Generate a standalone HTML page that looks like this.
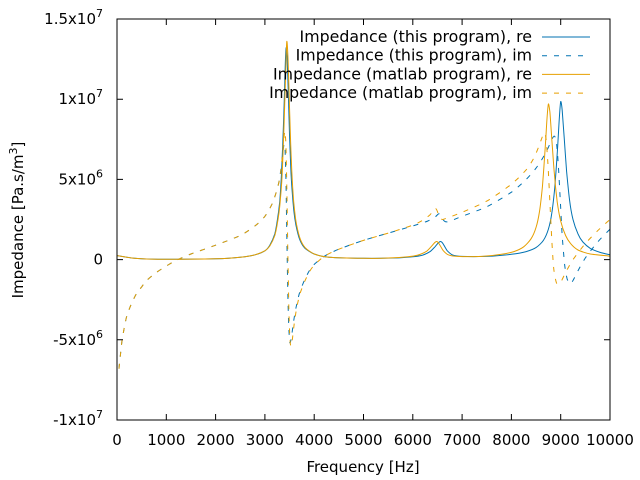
<!DOCTYPE html>
<html><head><meta charset="utf-8"><style>
html,body{margin:0;padding:0;background:#fff}
svg{display:block;font-family:"DejaVu Sans","Liberation Sans",sans-serif;font-size:15px}
</style></head><body>
<svg id="chart" width="640" height="480" viewBox="0 0 640 480" xmlns="http://www.w3.org/2000/svg">
<rect x="0" y="0" width="640" height="480" fill="#fff"/>
<g id="plot"></g>
<g id="axes"></g>
<text x="363" y="472" text-anchor="middle">Frequency [Hz]</text>
<text transform="translate(23,220) rotate(-90)" text-anchor="middle">Impedance [Pa.s/m<tspan dy="-6" font-size="11">3</tspan><tspan dy="6">]</tspan></text>
<g id="legend" font-size="15.8"></g>
</svg>
<script>
const xTicks=[0,1000,2000,3000,4000,5000,6000,7000,8000,9000,10000];
const yTicks=[-1e7,-5e6,0,5e6,1e7,1.5e7];
const yTickLabels=[["-1x10","7"],["-5x10","6"],["0",""],["5x10","6"],["1x10","7"],["1.5x10","7"]];
const seriesNames=["Impedance (this program), re","Impedance (this program), im","Impedance (matlab program), re","Impedance (matlab program), im"];
// values in units of 1e6 Pa.s/m^3
const fReThis=[0,300,600,1000,1500,2000,2500,2800,3000,3100,3200,3250,3300,3330,3360,3390,3410,3430,3450,3470,3500,3530,3570,3620,3700,3800,4000,4300,5000,5600,6000,6200,6350,6450,6500,6540,6570,6600,6640,6700,6800,7000,7500,8000,8300,8500,8650,8750,8820,8880,8930,8970,9000,9030,9070,9120,9180,9250,9350,9450,9600,9800,10000];
const vReThis=[0.25,0.1,0.04,0.02,0.03,0.05,0.15,0.3,0.55,0.9,1.6,2.4,3.6,5.0,7.0,9.6,11.8,13.2,12.6,10.8,7.8,5.4,3.6,2.3,1.3,0.75,0.35,0.15,0.08,0.1,0.18,0.28,0.5,0.8,0.98,1.1,1.12,1.05,0.85,0.55,0.3,0.2,0.2,0.33,0.5,0.75,1.2,1.9,2.9,4.5,6.6,8.7,9.85,9.3,7.6,5.5,3.7,2.5,1.6,1.1,0.7,0.45,0.3];
const fImThis=[40,70,100,150,200,300,400,500,600,800,1000,1200,1500,2000,2500,2800,3000,3150,3250,3300,3340,3370,3390,3410,3430,3450,3470,3490,3510,3540,3580,3630,3700,3800,3900,4000,4200,4500,5000,5500,6000,6300,6450,6520,6560,6600,6640,6700,6800,7000,7500,8000,8300,8500,8650,8750,8820,8870,8910,8950,8990,9030,9080,9130,9190,9250,9350,9500,9750,10000];
const vImThis=[-6.8,-5.9,-5.1,-4.2,-3.5,-2.7,-2.1,-1.7,-1.3,-0.8,-0.4,-0.05,0.35,0.9,1.5,2.1,2.7,3.5,4.4,5.1,6.0,6.8,7.2,6.8,4.5,0.5,-2.8,-4.6,-5.2,-4.8,-3.9,-3.0,-2.1,-1.3,-0.7,-0.3,0.2,0.65,1.2,1.65,2.1,2.4,2.65,2.85,2.8,2.55,2.4,2.35,2.45,2.7,3.3,4.2,5.0,5.7,6.4,7.0,7.5,7.7,7.4,6.0,3.8,1.5,-0.3,-1.2,-1.5,-1.3,-0.7,0.1,1.1,1.9];
const fReMat=[0,300,600,1000,1500,2000,2500,2800,3000,3100,3200,3250,3300,3340,3370,3400,3425,3445,3465,3485,3515,3545,3585,3635,3715,3815,4000,4300,5000,5500,5900,6100,6270,6370,6420,6460,6490,6520,6560,6620,6720,6900,7400,7800,8050,8250,8400,8500,8570,8630,8680,8720,8750,8780,8820,8870,8930,9000,9100,9200,9350,9600,10000];
const vReMat=[0.25,0.1,0.04,0.02,0.03,0.05,0.15,0.3,0.55,0.85,1.5,2.2,3.3,4.8,6.8,9.5,12.0,13.6,12.8,11.0,7.9,5.5,3.6,2.3,1.3,0.75,0.35,0.15,0.08,0.1,0.18,0.28,0.5,0.8,0.98,1.1,1.12,1.05,0.85,0.55,0.3,0.2,0.2,0.33,0.5,0.8,1.3,2.0,3.0,4.6,6.7,8.7,9.7,9.2,7.5,5.4,3.6,2.4,1.5,1.0,0.6,0.35,0.22];
const fImMat=[40,70,100,150,200,300,400,500,600,800,1000,1200,1500,2000,2500,2800,3000,3150,3250,3310,3350,3380,3405,3425,3445,3465,3485,3505,3525,3555,3595,3645,3715,3815,3915,4000,4200,4500,5000,5500,6000,6200,6350,6420,6460,6500,6540,6600,6700,7000,7500,8000,8300,8450,8550,8620,8660,8700,8740,8780,8820,8860,8920,9000,9100,9250,9500,9750,10000];
const vImMat=[-6.8,-5.9,-5.1,-4.2,-3.5,-2.7,-2.1,-1.7,-1.3,-0.8,-0.4,-0.05,0.35,0.9,1.5,2.1,2.7,3.5,4.4,5.2,6.3,7.4,8.0,7.2,4.5,0.5,-2.9,-4.8,-5.4,-5.0,-4.0,-3.0,-2.1,-1.3,-0.7,-0.35,0.2,0.65,1.2,1.65,2.15,2.45,2.8,3.1,3.2,3.0,2.65,2.5,2.6,2.95,3.65,4.7,5.6,6.3,7.0,7.6,7.9,7.6,6.0,3.6,1.2,-0.6,-1.5,-1.4,-0.8,0.0,1.0,1.8,2.5];

const X0=117,X1=610,Y0=19,Y1=420,xMin=0,xMax=10000,yMin=-1e7,yMax=1.5e7;
const sx=f=>X0+(f-xMin)/(xMax-xMin)*(X1-X0);
const sy=v=>Y1-(v-yMin)/(yMax-yMin)*(Y1-Y0);
const NS="http://www.w3.org/2000/svg";
const mk=(t,a,p)=>{const e=document.createElementNS(NS,t);for(const k in a)e.setAttribute(k,a[k]);p.appendChild(e);return e;};
const axes=document.getElementById('axes'),plot=document.getElementById('plot'),leg=document.getElementById('legend');

const clip=mk('clipPath',{id:'clipP'},document.getElementById('chart'));
mk('rect',{x:X0,y:Y0,width:X1-X0,height:Y1-Y0},clip);
plot.setAttribute('clip-path','url(#clipP)');

const frame=mk('rect',{x:X0,y:Y0,width:X1-X0,height:Y1-Y0,fill:'none',stroke:'#000','stroke-width':1},axes);


xTicks.forEach(t=>{
  const x=sx(t);
  const tk=mk('path',{d:`M${x},${Y1}v-6M${x},${Y0}v6`,stroke:'#000','stroke-width':1},axes);
  
  
  const lb=mk('text',{x:x,y:Y1+25,'text-anchor':'middle'},axes);
  lb.textContent=String(t);
  
  
});
yTicks.forEach((t,i)=>{
  const y=sy(t);
  const tk=mk('path',{d:`M${X0},${y}h6M${X1},${y}h-6`,stroke:'#000','stroke-width':1},axes);
  
  
  const lb=mk('text',{x:103,y:y+5,'text-anchor':'end'},axes);
  
  
  const [m,e]=yTickLabels[i];
  lb.appendChild(document.createTextNode(m));
  if(e){const ts=mk('tspan',{dy:-7,'font-size':'11'},lb);ts.textContent=e;}
});

function smoothPath(fs,vs){
  const p=fs.map((f,j)=>[sx(f),sy(vs[j]*1e6)]);
  let d=`M${p[0][0].toFixed(1)},${p[0][1].toFixed(1)}`;
  for(let i=0;i<p.length-1;i++){
    const p0=p[Math.max(0,i-1)],p1=p[i],p2=p[i+1],p3=p[Math.min(p.length-1,i+2)];
    const k=0.12;
    const c1=[p1[0]+(p2[0]-p0[0])*k,p1[1]+(p2[1]-p0[1])*k];
    const c2=[p2[0]-(p3[0]-p1[0])*k,p2[1]-(p3[1]-p1[1])*k];
    d+=`C${c1[0].toFixed(1)},${c1[1].toFixed(1)} ${c2[0].toFixed(1)},${c2[1].toFixed(1)} ${p2[0].toFixed(1)},${p2[1].toFixed(1)}`;
  }
  return d;
}

const series=[[fReThis,vReThis,'#0072b2',null],[fImThis,vImThis,'#0072b2','5,7'],[fReMat,vReMat,'#e69f00',null],[fImMat,vImMat,'#e69f00','5,7']];
const keys=['series-this-re','series-this-im','series-matlab-re','series-matlab-im'];
series.forEach((s,i)=>{
  const [fs,vs,c,d]=s;
  const a={d:smoothPath(fs,vs),fill:'none',stroke:c,'stroke-width':1};
  if(d)a['stroke-dasharray']=d;
  const pl=mk('path',a,plot);
  
  
  const ly=37+i*18.7;
  const t=mk('text',{x:532,y:ly+5,'text-anchor':'end'},leg);
  t.textContent=seriesNames[i];
  
  
  const la={x1:542,x2:590,y1:ly,y2:ly,stroke:c,'stroke-width':1};
  if(d)la['stroke-dasharray']=d;
  const ln=mk('line',la,leg);
  
  
});
</script>
</body></html>
